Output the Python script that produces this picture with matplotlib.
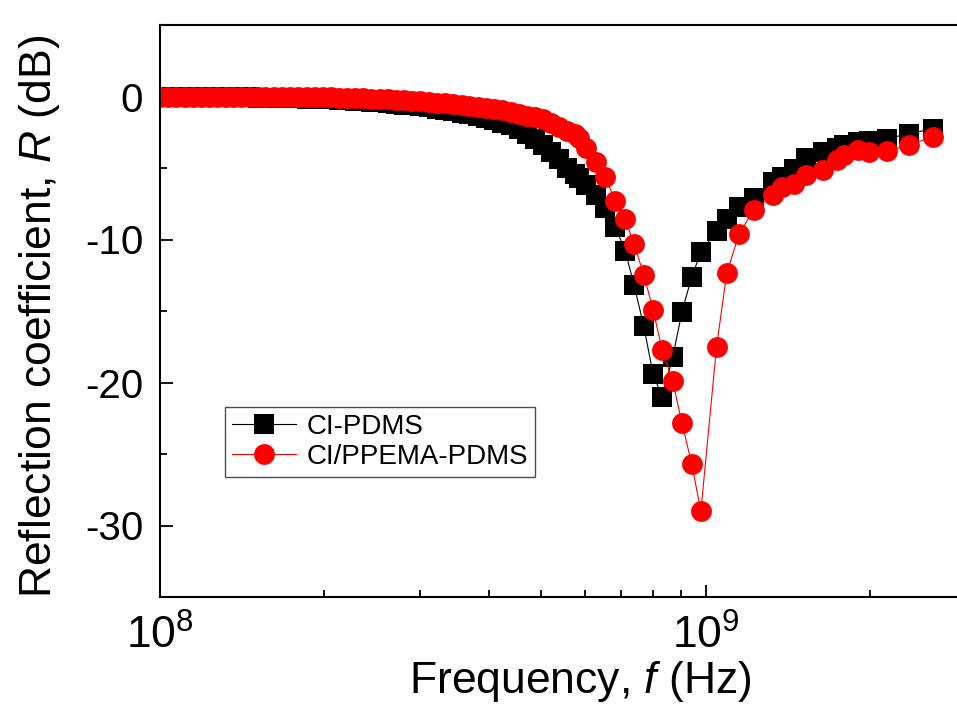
"""Reflection coefficient vs frequency for CI-PDMS and CI/PPEMA-PDMS."""
import numpy as np
import matplotlib
matplotlib.use("Agg")
import matplotlib.pyplot as plt

# frequency grid, in units of 1e8 Hz (shared by both samples)
freq_e8 = [
    1.00, 1.035, 1.07, 1.11, 1.15, 1.19, 1.23, 1.27, 1.32, 1.36,
    1.41, 1.46, 1.51, 1.56, 1.62, 1.67, 1.73, 1.79, 1.86, 1.92,
    1.99, 2.06, 2.13, 2.20, 2.28, 2.36, 2.44, 2.53, 2.62, 2.71,
    2.80, 2.90, 3.00, 3.11, 3.22, 3.33, 3.45, 3.57, 3.69, 3.82,
    3.96, 4.10, 4.24, 4.39, 4.54, 4.70, 4.86, 5.03, 5.21, 5.39,
    5.58, 5.75, 5.87, 6.04, 6.29, 6.54, 6.83, 7.12, 7.39, 7.70,
    8.01, 8.32, 8.70, 9.05, 9.43, 9.80, 10.47, 10.93, 11.52, 12.24,
    13.3, 13.8, 14.5, 15.3, 16.4, 17.4, 17.9, 19.0, 19.9, 21.5,
    23.6, 26.1,
]

r_ci_pdms = [
    0.00, -0.01, -0.01, -0.02, -0.02, -0.03, -0.03, -0.04, -0.04, -0.05,
    -0.05, -0.06, -0.07, -0.08, -0.09, -0.10, -0.11, -0.12, -0.14, -0.15,
    -0.17, -0.19, -0.21, -0.24, -0.28, -0.32, -0.36, -0.41, -0.46, -0.51,
    -0.56, -0.62, -0.68, -0.76, -0.84, -0.92, -1.02, -1.12, -1.24, -1.36,
    -1.50, -1.65, -1.82, -2.00, -2.30, -2.60, -3.00, -3.40, -3.90, -4.40,
    -5.00, -5.40, -5.70, -6.20, -6.90, -7.80, -9.10, -10.80, -13.15, -16.05,
    -19.40, -21.00, -18.25, -15.05, -12.60, -10.90, -9.40, -8.60, -7.70, -7.10,
    -6.00, -5.60, -5.10, -4.30, -3.90, -3.60, -3.40, -3.20, -3.10, -2.95,
    -2.60, -2.25,
]

r_ci_ppema_pdms = [
    0.00, 0.00, 0.00, 0.00, 0.00, -0.01, -0.01, -0.01, -0.01, -0.01,
    -0.02, -0.02, -0.02, -0.02, -0.03, -0.03, -0.03, -0.04, -0.04, -0.05,
    -0.05, -0.06, -0.07, -0.09, -0.11, -0.13, -0.15, -0.17, -0.20, -0.23,
    -0.26, -0.29, -0.33, -0.37, -0.42, -0.47, -0.53, -0.59, -0.65, -0.72,
    -0.80, -0.88, -0.96, -1.05, -1.20, -1.35, -1.45, -1.60, -1.85, -2.10,
    -2.40, -2.65, -2.90, -3.60, -4.60, -5.60, -7.30, -8.60, -10.30, -12.45,
    -14.90, -17.70, -19.90, -22.85, -25.70, -29.00, -17.50, -12.35, -9.60, -7.95,
    -6.90, -6.30, -6.10, -5.50, -5.15, -4.45, -4.10, -3.75, -3.90, -3.80,
    -3.40, -2.80,
]

labels = ["CI-PDMS", "CI/PPEMA-PDMS"]

plt.rcParams.update({
    "font.family": ["Liberation Sans", "DejaVu Sans"],
    "mathtext.fontset": "custom",
    "mathtext.rm": "Liberation Sans",
    "mathtext.it": "Liberation Sans:italic",
    "mathtext.bf": "Liberation Sans:bold",
})

freq = np.array(freq_e8) * 1e8

fig = plt.figure(figsize=(9.57, 7.07), dpi=100)
ax = fig.add_axes([160 / 957, 1 - 597 / 707, 806 / 957, 572 / 707])

ax.plot(freq, r_ci_pdms, "-s", color="black", linewidth=0.8,
        markersize=14, markeredgewidth=0, label=labels[0])
ax.plot(freq, r_ci_ppema_pdms, "-o", color="red", linewidth=0.8,
        markersize=15, markeredgewidth=0, label=labels[1])

ax.set_xscale("log")
ax.set_xlim(1e8, 3e9)
ax.set_ylim(-35, 5)
ax.set_yticks([0, -10, -20, -30])
ax.set_yticklabels(["0", "-10", "-20", "-30"])
ax.set_yticks([-35, -25, -15, -5, 5], minor=True)

for side in ["left", "bottom", "top"]:
    ax.spines[side].set_linewidth(1.5)
ax.spines["right"].set_visible(False)

ax.tick_params(axis="both", which="major", direction="in", length=9,
               width=1.3, top=False, right=False)
ax.tick_params(axis="both", which="minor", direction="in", length=5,
               width=1.3, top=False, right=False)
ax.tick_params(axis="x", which="major", pad=13, labelsize=32)
ax.tick_params(axis="y", which="major", pad=12, labelsize=29)

ax.set_xlabel(r"Frequency, $f$ (Hz)", fontsize=32)
ax.set_ylabel(r"Reflection coefficient, $R$ (dB)", fontsize=32)
ax.xaxis.set_label_coords(0.522, -0.108)
ax.yaxis.set_label_coords(-0.122, 0.49)

leg = ax.legend(loc="upper left", bbox_to_anchor=(0.0806, 0.332),
                borderaxespad=0, fontsize=20, handlelength=2.3,
                handletextpad=0.4, borderpad=0.25, labelspacing=0.15,
                fancybox=False, framealpha=1, edgecolor="0.3")
leg.get_frame().set_linewidth(1.0)

fig.savefig("out.png", dpi=100)
